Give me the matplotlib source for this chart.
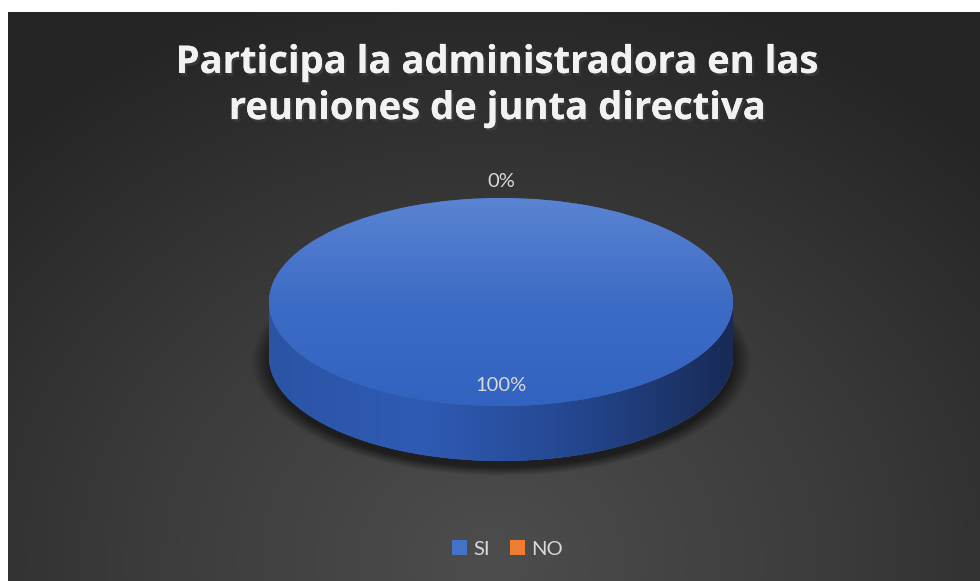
import numpy as np
import matplotlib
matplotlib.use("Agg")
import matplotlib.pyplot as plt
import matplotlib.patheffects as pe
from matplotlib.colors import LinearSegmentedColormap
from matplotlib.patches import Polygon

# data
categorias = ["SI", "NO"]
porcentajes = [100, 0]
colores = ["#4472C4", "#ED7D31"]
titulo = "Participa la administradora en las\nreuniones de junta directiva"

W, H = 980, 581
fig = plt.figure(figsize=(W / 100, H / 100), dpi=100, facecolor="white")

# background panel (pixel coords)
bg = fig.add_axes([0, 0, 1, 1])
bg.set_xlim(0, W)
bg.set_ylim(H, 0)
bg.axis("off")

x0, y0 = 8, 12
yy, xx = np.mgrid[y0:H, x0:W]
r = np.hypot((xx - 490) / 1.0, (yy - 560) / 0.85)
t = np.clip(r / 700.0, 0, 1)
cmap_bg = LinearSegmentedColormap.from_list("bg", ["#4d4d4d", "#3b3b3b", "#252525"])
bg.imshow(cmap_bg(t), extent=(x0, W, H, y0), zorder=0, interpolation="bilinear")

# soft shadow under the pie
cx, cy, a, b, depth = 501, 302, 232, 104, 55
rs = np.hypot((xx - cx) / (a + 4), (yy - (cy + depth + 4)) / (b + 4))
alpha = np.clip((1.06 - rs) / 0.08, 0, 1) * 0.55
shadow = np.zeros(rs.shape + (4,))
shadow[..., 3] = alpha
bg.imshow(shadow, extent=(x0, W, H, y0), zorder=1, interpolation="bilinear")

bg.text(498, 86, titulo, ha="center", va="center", color="#f2f2f2",
        fontsize=27.5, fontweight="bold", family="Open Sans", linespacing=1.28,
        path_effects=[pe.withSimplePatchShadow(offset=(1.5, -2), alpha=0.5),
                      pe.Normal()], zorder=5)

# pie axes: unit circle mapped onto an ellipse
ax = fig.add_axes([0, 0, 1, 1])
ax.patch.set_alpha(0)
wedges, _ = ax.pie(porcentajes, colors=colores, startangle=90,
                   counterclock=False, radius=1, center=(0, 0),
                   wedgeprops=dict(linewidth=0))
ax.set_aspect("auto")
ax.set_xlim((0 - cx) / a, (W - cx) / a)
ax.set_ylim((cy - H) / b, cy / b)
ax.axis("off")

d = depth / b
cmap_side = LinearSegmentedColormap.from_list(
    "side", ["#2b54a5", "#2f5bb5", "#24468e", "#182a55"])
cmap_top = LinearSegmentedColormap.from_list("top", ["#5a84d2", "#3d6cc6", "#3263c0"])
gx = np.linspace(0, 1, 256)[None, :]
gy = np.linspace(0, 1, 256)[:, None]

for w in wedges:
    t1, t2 = np.deg2rad(w.theta1), np.deg2rad(w.theta2)
    if t2 - t1 <= 0:
        continue
    ts = np.linspace(t1, t2, 400)
    front = ts[np.sin(ts) <= 0]
    if len(front) > 1:
        pts = np.vstack([np.c_[np.cos(front), np.sin(front)],
                         np.c_[np.cos(front[::-1]), np.sin(front[::-1]) - d]])
        side = Polygon(pts, closed=True, facecolor=w.get_facecolor(),
                       linewidth=0, zorder=1)
        ax.add_patch(side)
        im = ax.imshow(np.repeat(gx, 2, axis=0), cmap=cmap_side,
                       extent=(-1, 1, -1 - d, 0), aspect="auto", zorder=1.5)
        im.set_clip_path(side)
    w.set_zorder(2)
    im = ax.imshow(gy, cmap=cmap_top, extent=(-1, 1, -1, 1),
                   aspect="auto", zorder=2.5)
    im.set_clip_path(w)

# data labels
for w, p in zip(wedges, porcentajes):
    mid = np.deg2rad((w.theta1 + w.theta2) / 2)
    dist = 1.18 if p < 5 else 0.78
    ax.text(dist * np.cos(mid), dist * np.sin(mid) - 0.02, f"{p}%",
            ha="center", va="center", color="#d9d9d9", fontsize=14.5,
            family="Lato", zorder=4)

leg = ax.legend(wedges, categorias, loc="center", bbox_to_anchor=(0.518, 0.055),
                bbox_transform=fig.transFigure, ncol=2, frameon=False,
                handlelength=0.75, handleheight=0.75, handletextpad=0.3,
                columnspacing=1.0, prop=dict(family="Lato", size=14.5))
for txt in leg.get_texts():
    txt.set_color("#d9d9d9")

fig.savefig("out.png", dpi=100, facecolor="white")
